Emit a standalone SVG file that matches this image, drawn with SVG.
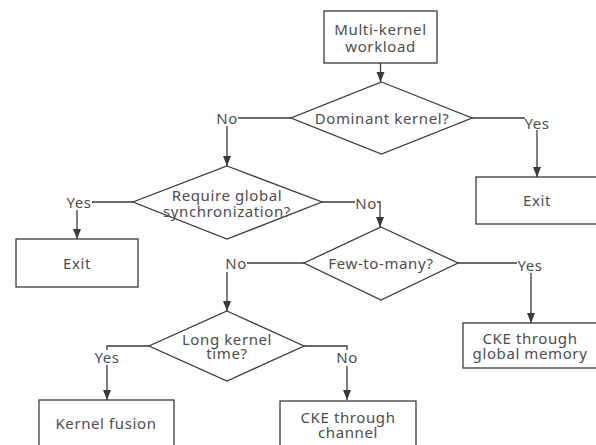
<svg xmlns="http://www.w3.org/2000/svg" width="596" height="445" viewBox="0 0 596 445">
<style>
.n{fill:#fff;stroke:#3a3a3a;stroke-width:1.3}
.c{fill:none;stroke:#3a3a3a;stroke-width:1.3}
text{font-family:"Noto Sans","Open Sans",sans-serif;font-size:15px;letter-spacing:0.6px;fill:#4d4d4d;text-anchor:middle;dominant-baseline:central}
</style>
<rect width="596" height="445" fill="#fff"/>
<g id="connectors">
<path class="c" d="M380.5,63 V82"/>
<path class="c" d="M291,118 H238"/>
<path class="c" d="M227,126 V166"/>
<path class="c" d="M472,118 H525"/>
<path class="c" d="M537,130 V177"/>
<path class="c" d="M133,202 H92"/>
<path class="c" d="M77,210 V239"/>
<path class="c" d="M322,202 H355"/>
<path class="c" d="M377,202 H380 V227"/>
<path class="c" d="M458,263 H517"/>
<path class="c" d="M531,273 V323"/>
<path class="c" d="M304,263 H247"/>
<path class="c" d="M227,272 V311"/>
<path class="c" d="M149,346 H107 V350"/>
<path class="c" d="M107,365 V400"/>
<path class="c" d="M304,346 H347 V350"/>
<path class="c" d="M347,366 V400"/>
<g fill="#3a3a3a">
<path d="M376.5,72 H384.5 L380.5,82 Z"/>
<path d="M223,156 H231 L227,166 Z"/>
<path d="M533,167 H541 L537,177 Z"/>
<path d="M73,229 H81 L77,239 Z"/>
<path d="M376,217 H384 L380,227 Z"/>
<path d="M527,313 H535 L531,323 Z"/>
<path d="M223,301 H231 L227,311 Z"/>
<path d="M103,390 H111 L107,400 Z"/>
<path d="M343,390 H351 L347,400 Z"/>
</g>
<text x="227" y="118">No</text>
<text x="537" y="123">Yes</text>
<text x="79" y="202">Yes</text>
<text x="366" y="203">No</text>
<text x="530" y="265">Yes</text>
<text x="236" y="263">No</text>
<text x="107" y="357">Yes</text>
<text x="347" y="357">No</text>
</g>
<g id="start">
<rect class="n" x="324" y="11" width="113" height="52"/>
<text x="380.5" y="29">Multi-kernel<tspan x="380.5" dy="17">workload</tspan></text>
</g>
<g id="d1">
<polygon class="n" points="381.5,82 472,118 381.5,154 291,118"/>
<text x="382" y="118">Dominant kernel?</text>
</g>
<g id="exit1">
<rect class="n" x="476" y="177" width="122" height="47"/>
<text x="537" y="200">Exit</text>
</g>
<g id="d2">
<polygon class="n" points="227,166 322,202 227,239 133,202"/>
<text x="227" y="195">Require global<tspan x="227" dy="16">synchronization?</tspan></text>
</g>
<g id="exit2">
<rect class="n" x="16" y="239" width="122" height="48"/>
<text x="77" y="263">Exit</text>
</g>
<g id="d3">
<polygon class="n" points="381,227 458,263 381,300 304,263"/>
<text x="381" y="263">Few-to-many?</text>
</g>
<g id="gm">
<rect class="n" x="463" y="323" width="134" height="45"/>
<text x="530" y="338">CKE through<tspan x="530" dy="15">global memory</tspan></text>
</g>
<g id="d4">
<polygon class="n" points="227,311 304,346 227,381 149,346"/>
<text x="227" y="339">Long kernel<tspan x="227" dy="14">time?</tspan></text>
</g>
<g id="fusion">
<rect class="n" x="39" y="400" width="135" height="50"/>
<text x="106" y="423">Kernel fusion</text>
</g>
<g id="channel">
<rect class="n" x="280" y="401" width="136" height="50"/>
<text x="348" y="417">CKE through<tspan x="348" dy="15">channel</tspan></text>
</g>
</svg>
